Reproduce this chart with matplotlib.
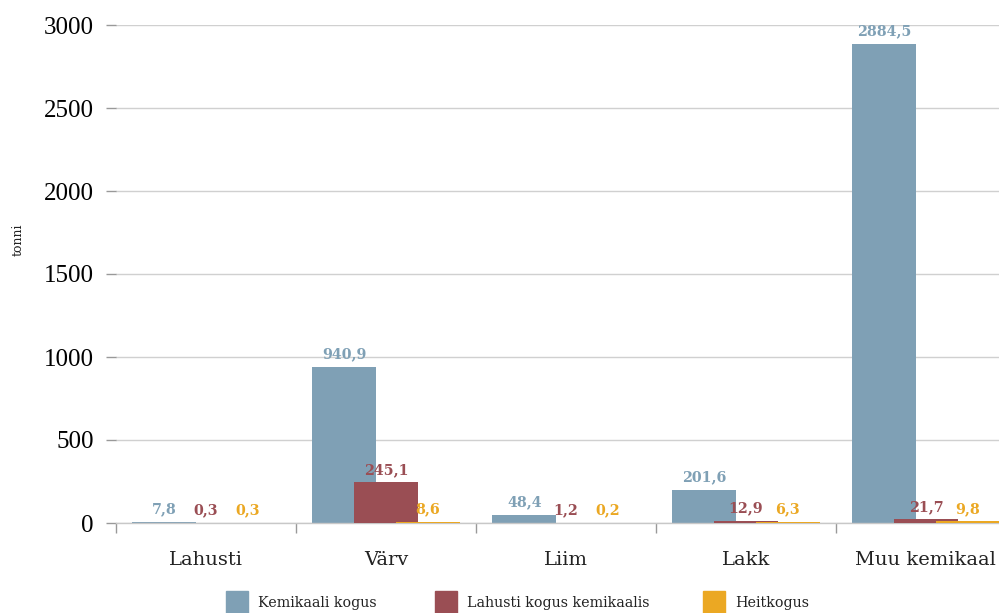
import matplotlib
matplotlib.use("Agg")
import matplotlib.pyplot as plt
from matplotlib.patches import Rectangle
from matplotlib.transforms import blended_transform_factory
import numpy as np

categories = ["Lahusti", "Värv", "Liim", "Lakk", "Muu kemikaal"]
series_names = ["Kemikaali kogus", "Lahusti kogus kemikaalis", "Heitkogus"]
kemikaali_kogus = [7.8, 940.9, 48.4, 201.6, 2884.5]
lahusti_kogus = [0.3, 245.1, 1.2, 12.9, 21.7]
heitkogus = [0.3, 8.6, 0.2, 6.3, 9.8]
y_ticks = [0, 500, 1000, 1500, 2000, 2500, 3000]

colors = ["#7fa0b5", "#9a4e54", "#eba823"]
series = [kemikaali_kogus, lahusti_kogus, heitkogus]

W, H = 999, 613
fig = plt.figure(figsize=(W / 100, H / 100), dpi=100)
ax = fig.add_axes([116 / W, 90 / H, 900 / W, 498 / H])

x = np.arange(len(categories))
bar_w = 0.356
offsets = [-0.231, 0.0, 0.231]

for i, (vals, col, off) in enumerate(zip(series, colors, offsets)):
    ax.bar(x + off, vals, width=bar_w, color=col, zorder=2 + i, linewidth=0)
    for xi, v in zip(x, vals):
        ax.annotate(f"{v:.1f}".replace(".", ","), (xi + off, v),
                    xytext=(0, 4), textcoords="offset points",
                    ha="center", va="bottom", color=col,
                    fontsize=10.3, fontweight="bold", family="DejaVu Serif",
                    zorder=10)

ax.set_xlim(-0.5, len(categories) - 0.5)
ax.set_ylim(0, 3000)
ax.set_yticks(y_ticks)
ax.set_yticklabels([str(t) for t in y_ticks], family="Liberation Serif", fontsize=18)
ax.tick_params(axis="y", length=7, width=1, color="#999999", pad=9)
ax.yaxis.grid(True, color="#d0d0d0", linewidth=1, zorder=0)
ax.set_axisbelow(True)

# category labels below the axis; the last one is kept inside the right edge
ax.set_xticks(np.arange(-0.5, len(categories), 1.0))
ax.set_xticklabels([])
ax.tick_params(axis="x", length=7, width=1, color="#999999", direction="out")
trans = blended_transform_factory(ax.transData, fig.transFigure)
for xi, cat in zip(x, categories):
    if xi == len(categories) - 1:
        fig.text(996 / W, 1 - 560 / H, cat, ha="right", va="center",
                 family="DejaVu Serif", fontsize=14, color="#222222")
    else:
        ax.text(xi, 1 - 560 / H, cat, transform=trans, ha="center", va="center",
                family="DejaVu Serif", fontsize=14, color="#222222")

for s in ["left", "top", "right"]:
    ax.spines[s].set_visible(False)
ax.spines["bottom"].set_color("#c8c8c8")
ax.spines["bottom"].set_linewidth(1)

fig.text(18 / W, 1 - 240 / H, "tonni", rotation=90, ha="center", va="center",
         family="DejaVu Serif", fontsize=9, color="#222222")

# legend along the bottom edge
leg_x = [226, 435, 703]
for lx, name, col in zip(leg_x, series_names, colors):
    fig.patches.append(Rectangle((lx / W, 1 - 613 / H), 22 / W, 22 / H,
                                 transform=fig.transFigure, color=col))
    fig.text((lx + 32) / W, 1 - 603 / H, name, ha="left", va="center",
             family="DejaVu Serif", fontsize=10.3, color="#222222")

fig.savefig("out.png", dpi=100)
